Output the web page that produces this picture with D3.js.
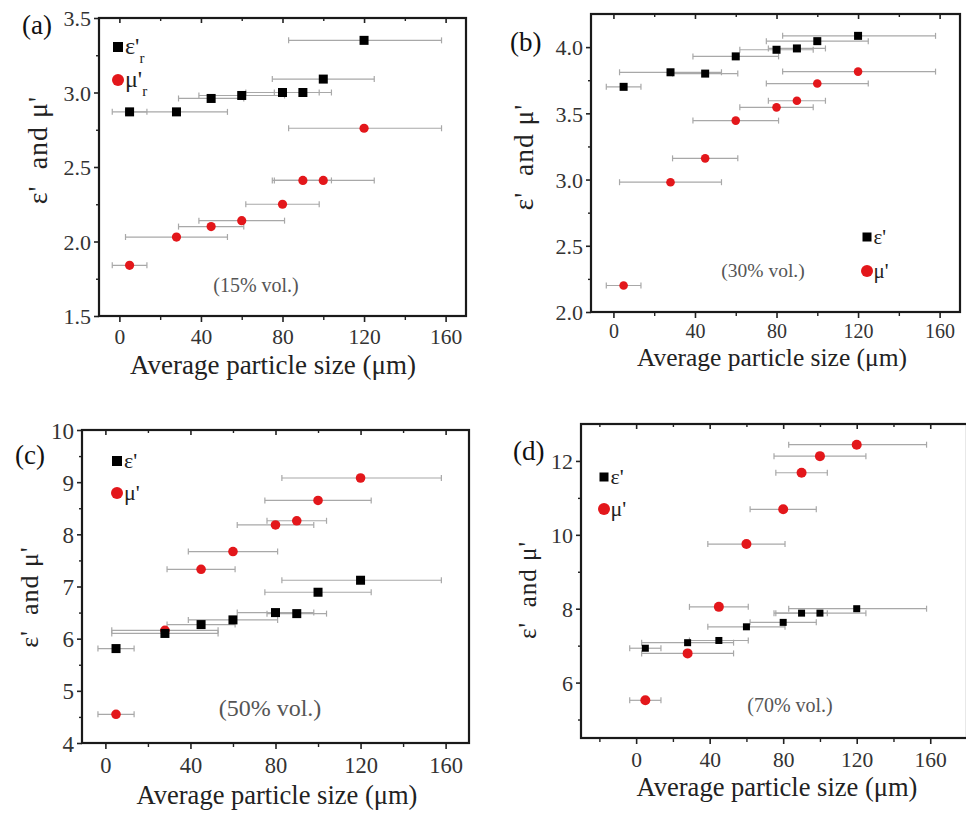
<!DOCTYPE html>
<html>
<head>
<meta charset="utf-8">
<script src="https://cdn.jsdelivr.net/npm/d3@7/dist/d3.min.js"></script>
<style>
  html, body { margin: 0; padding: 0; background: #fff; }
  svg { display: block; }
  text { font-family: "Liberation Serif", "DejaVu Serif", serif; }
</style>
</head>
<body>
<svg id="chart" width="966" height="813"></svg>
<script>
// ---------------- data ----------------
const particleSize = [5, 28, 45, 60, 80, 90, 100, 120];
const sizeErrLow   = [-3.5, 3, 29, 39, 62, 76, 75, 83];
const sizeErrHigh  = [13.5, 53, 61, 81, 98, 104, 125, 158];

const eps15 = [2.87, 2.87, 2.96, 2.98, 3.00, 3.00, 3.09, 3.35];
const mu15  = [1.84, 2.03, 2.10, 2.14, 2.25, 2.41, 2.41, 2.76];
const eps30 = [3.70, 3.81, 3.80, 3.93, 3.98, 3.99, 4.045, 4.085];
const mu30  = [2.20, 2.98, 3.16, 3.445, 3.545, 3.595, 3.725, 3.815];
const eps50 = [5.81, 6.10, 6.27, 6.36, 6.50, 6.48, 6.89, 7.12];
const mu50  = [4.55, 6.16, 7.33, 7.67, 8.18, 8.26, 8.65, 9.08];
const eps70 = [6.93, 7.08, 7.14, 7.51, 7.63, 7.88, 7.88, 8.00];
const mu70  = [5.52, 6.79, 8.05, 9.75, 10.69, 11.68, 12.13, 12.44];

const panelLabels = ["(a)", "(b)", "(c)", "(d)"];
const volumeLabels = ["(15% vol.)", "(30% vol.)", "(50% vol.)", "(70% vol.)"];
const xTitle = "Average particle size (μm)";
const yTitle = "ε'\u00a0 and μ'";

const xMajorTicks = [0, 40, 80, 120, 160];
const xMinorTicks = [-20, 20, 60, 100, 140, 180];
const yMajorA = [1.5, 2.0, 2.5, 3.0, 3.5];
const yMinorA = [1.75, 2.25, 2.75, 3.25];
const yMajorB = [2.0, 2.5, 3.0, 3.5, 4.0];
const yMinorB = [2.25, 2.75, 3.25, 3.75];
const yMajorC = [4, 5, 6, 7, 8, 9, 10];
const yMinorC = [4.5, 5.5, 6.5, 7.5, 8.5, 9.5];
const yMajorD = [6, 8, 10, 12];
const yMinorD = [5, 7, 9, 11];

// ---------------- layout ----------------
const RED = "#e3171b";
const ERR = "#a8a8a8";

const panels = [
  { eps: eps15, mu: mu15, yMajor: yMajorA, yMinor: yMinorA, yFmt: ".1f",
    left: 99, right: 466, top: 18, bottom: 316, xDom: [-10, 170], yDom: [1.5, 3.5],
    sq: 9, r: 4.6, xtf: 21.5, xty: 28, ytf: 22,
    label: { x: 22, y: 34 },
    vol: { x: 256, y: 292, size: 20 },
    xt: { x: 273, y: 374, size: 27 },
    yt: { x: 47, y: 150, size: 28 },
    leg: { x: 118, y1: 47, y2: 80, sq: 10, r: 6, size: 24, sub: true }
  },
  { eps: eps30, mu: mu30, yMajor: yMajorB, yMinor: yMinorB, yFmt: ".1f",
    left: 591, right: 960, top: 14, bottom: 312, xDom: [-11, 170], yDom: [2.0, 4.25],
    sq: 8, r: 4.3, xtf: 20, xty: 26, ytf: 22,
    label: { x: 510, y: 51 },
    vol: { x: 763, y: 277, size: 19.5 },
    xt: { x: 772, y: 366, size: 25.5 },
    yt: { x: 533, y: 157, size: 27.5 },
    leg: { x: 867, y1: 237, y2: 271, sq: 9, r: 6, size: 21, sub: false }
  },
  { eps: eps50, mu: mu50, yMajor: yMajorC, yMinor: yMinorC, yFmt: "d",
    left: 82, right: 469, top: 430, bottom: 743, xDom: [-11, 171], yDom: [4, 10],
    sq: 9, r: 4.8, xtf: 22.5, xty: 30, ytf: 23,
    label: { x: 15, y: 464 },
    vol: { x: 270, y: 716, size: 24 },
    xt: { x: 277, y: 804, size: 26.5 },
    yt: { x: 38, y: 597, size: 26 },
    leg: { x: 117, y1: 461, y2: 493, sq: 10, r: 6, size: 22, sub: false }
  },
  { eps: eps70, mu: mu70, yMajor: yMajorD, yMinor: yMinorD, yFmt: "d",
    left: 581, right: 967, top: 424, bottom: 738, xDom: [-30, 180], yDom: [4.5, 13],
    sq: 7, r: 5, xtf: 21.5, xty: 29, ytf: 22,
    label: { x: 513, y: 460 },
    vol: { x: 790, y: 712, size: 20 },
    xt: { x: 777, y: 796, size: 26.5 },
    yt: { x: 536, y: 590, size: 25 },
    leg: { x: 604, y1: 477, y2: 509, sq: 9, r: 6, size: 22, sub: false }
  }
];

const svg = d3.select("#chart");

panels.forEach((p, i) => {
  const x = d3.scaleLinear().domain(p.xDom).range([p.left, p.right]);
  const y = d3.scaleLinear().domain(p.yDom).range([p.bottom, p.top]);
  const g = svg.append("g");

  const inX = v => v >= p.xDom[0] && v <= p.xDom[1];
  const inY = v => v >= p.yDom[0] && v <= p.yDom[1];

  // bottom axis (major + minor, outward)
  const bottomMajor = d3.axisBottom(x).tickValues(xMajorTicks.filter(inX))
    .tickSize(6).tickFormat(d3.format("d"));
  const gb = g.append("g").attr("transform", `translate(0,${p.bottom})`).call(bottomMajor);
  gb.select(".domain").remove();
  gb.selectAll("line").attr("stroke", "#222").attr("stroke-width", 1.6);
  gb.selectAll("text").attr("font-size", p.xtf).attr("fill", "#333").attr("dy", null).attr("y", p.xty);
  const bottomMinor = d3.axisBottom(x).tickValues(xMinorTicks.filter(inX)).tickSize(4).tickFormat("");
  const gbm = g.append("g").attr("transform", `translate(0,${p.bottom})`).call(bottomMinor);
  gbm.select(".domain").remove();
  gbm.selectAll("line").attr("stroke", "#222").attr("stroke-width", 1.4);

  // top axis (inward ticks)
  const topMajor = d3.axisTop(x).tickValues(xMajorTicks.filter(inX)).tickSize(-5).tickFormat("");
  const gt = g.append("g").attr("transform", `translate(0,${p.top})`).call(topMajor);
  gt.select(".domain").remove();
  gt.selectAll("line").attr("stroke", "#222").attr("stroke-width", 1.6);
  const topMinor = d3.axisTop(x).tickValues(xMinorTicks.filter(inX)).tickSize(-3).tickFormat("");
  const gtm = g.append("g").attr("transform", `translate(0,${p.top})`).call(topMinor);
  gtm.select(".domain").remove();
  gtm.selectAll("line").attr("stroke", "#222").attr("stroke-width", 1.4);

  // left axis (outward)
  const leftMajor = d3.axisLeft(y).tickValues(p.yMajor.filter(inY)).tickSize(5)
    .tickFormat(d3.format(p.yFmt));
  const gl = g.append("g").attr("transform", `translate(${p.left},0)`).call(leftMajor);
  gl.select(".domain").remove();
  gl.selectAll("line").attr("stroke", "#222").attr("stroke-width", 1.6);
  gl.selectAll("text").attr("font-size", p.ytf).attr("fill", "#333").attr("x", -8).attr("dy", "0.35em");
  const leftMinor = d3.axisLeft(y).tickValues(p.yMinor.filter(inY)).tickSize(3).tickFormat("");
  const glm = g.append("g").attr("transform", `translate(${p.left},0)`).call(leftMinor);
  glm.select(".domain").remove();
  glm.selectAll("line").attr("stroke", "#222").attr("stroke-width", 1.4);

  // frame
  g.append("rect")
    .attr("x", p.left).attr("y", p.top)
    .attr("width", p.right - p.left).attr("height", p.bottom - p.top)
    .attr("fill", "none").attr("stroke", "#1a1a1a").attr("stroke-width", 2.2);

  const idx = d3.range(particleSize.length);

  // error bars for both series
  [p.mu, p.eps].forEach(series => {
    const eb = g.append("g").attr("stroke", ERR).attr("stroke-width", 1.2).attr("fill", "none");
    eb.selectAll("line.h").data(idx).join("line").attr("class", "h")
      .attr("x1", k => x(sizeErrLow[k])).attr("x2", k => x(sizeErrHigh[k]))
      .attr("y1", k => y(series[k])).attr("y2", k => y(series[k]));
    eb.selectAll("line.cl").data(idx).join("line").attr("class", "cl")
      .attr("x1", k => x(sizeErrLow[k])).attr("x2", k => x(sizeErrLow[k]))
      .attr("y1", k => y(series[k]) - 3).attr("y2", k => y(series[k]) + 3);
    eb.selectAll("line.ch").data(idx).join("line").attr("class", "ch")
      .attr("x1", k => x(sizeErrHigh[k])).attr("x2", k => x(sizeErrHigh[k]))
      .attr("y1", k => y(series[k]) - 3).attr("y2", k => y(series[k]) + 3);
  });

  // mu markers (red circles)
  g.append("g").selectAll("circle").data(idx).join("circle")
    .attr("cx", k => x(particleSize[k])).attr("cy", k => y(p.mu[k]))
    .attr("r", p.r).attr("fill", RED);

  // eps markers (black squares)
  g.append("g").selectAll("rect").data(idx).join("rect")
    .attr("x", k => x(particleSize[k]) - p.sq / 2).attr("y", k => y(p.eps[k]) - p.sq / 2)
    .attr("width", p.sq).attr("height", p.sq).attr("fill", "#000");

  // legend
  const L = p.leg;
  g.append("rect").attr("x", L.x - L.sq / 2).attr("y", L.y1 - L.sq / 2)
    .attr("width", L.sq).attr("height", L.sq).attr("fill", "#000");
  g.append("circle").attr("cx", L.x).attr("cy", L.y2).attr("r", L.r).attr("fill", RED);
  const t1 = g.append("text").attr("x", L.x + L.sq / 2 + 2).attr("y", L.y1 + 7)
    .attr("font-size", L.size).attr("fill", "#222");
  t1.append("tspan").text("ε'");
  const t2 = g.append("text").attr("x", L.x + L.sq / 2 + 2).attr("y", L.y2 + 7)
    .attr("font-size", L.size).attr("fill", "#222");
  t2.append("tspan").text("μ'");
  if (L.sub) {
    t1.append("tspan").attr("dy", 9).attr("font-size", 15).text("r");
    t2.append("tspan").attr("dy", 9).attr("font-size", 15).text("r");
  }

  // volume annotation
  g.append("text").attr("x", p.vol.x).attr("y", p.vol.y)
    .attr("text-anchor", "middle").attr("font-size", p.vol.size).attr("fill", "#555")
    .text(volumeLabels[i]);

  // panel label
  g.append("text").attr("x", p.label.x).attr("y", p.label.y)
    .attr("font-size", 27).attr("fill", "#111").text(panelLabels[i]);

  // axis titles
  g.append("text").attr("x", p.xt.x).attr("y", p.xt.y)
    .attr("text-anchor", "middle").attr("font-size", p.xt.size).attr("fill", "#222")
    .text(xTitle);
  g.append("text")
    .attr("transform", `translate(${p.yt.x},${p.yt.y}) rotate(-90)`)
    .attr("text-anchor", "middle").attr("font-size", p.yt.size).attr("fill", "#222")
    .attr("letter-spacing", 1)
    .text(yTitle);
});
</script>
</body>
</html>
